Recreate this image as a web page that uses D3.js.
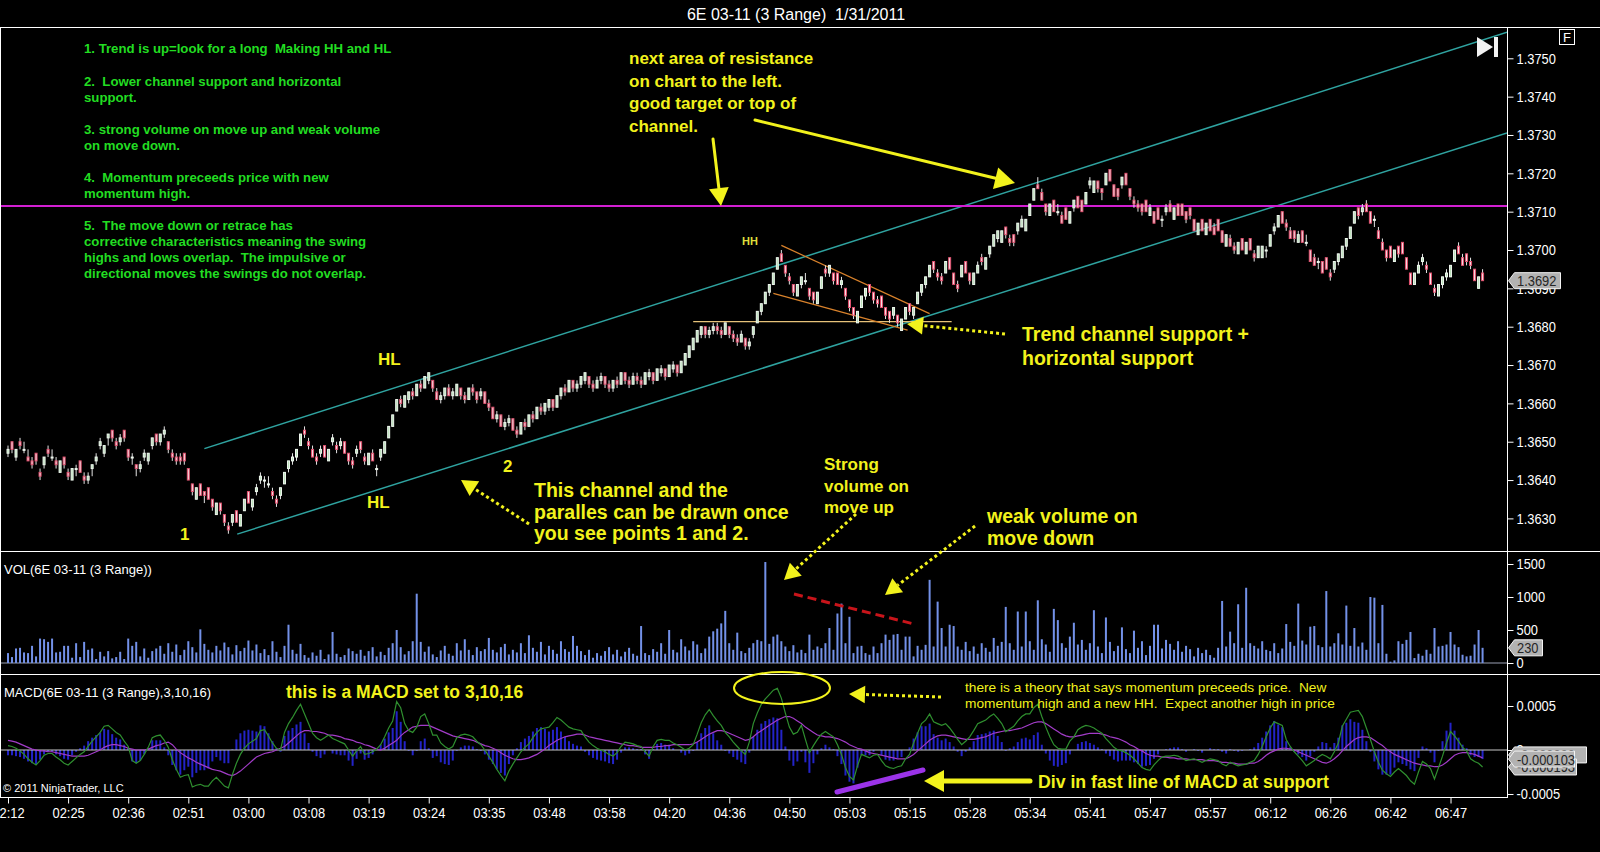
<!DOCTYPE html>
<html>
<head>
<meta charset="utf-8">
<script src="https://cdn.jsdelivr.net/npm/d3@7"></script>
<style>
html, body { margin: 0; padding: 0; background: #000; }
svg { display: block; }
text { font-family: "Liberation Sans", Arial, sans-serif; white-space: pre; }
</style>
</head>
<body>
<svg id="chart" width="1600" height="852"></svg>
<script>
// ---- values ----
// prices are stored in pips above 1.3600, 3 Range bars => high = low + 3 pips
var PRICE_BASE = 1.3600, PIP = 0.0001, RANGE_TICKS = 3, MACD_UNIT = 0.00001;

var timeLabels = ["02:12","02:25","02:36","02:51","03:00","03:08","03:19","03:24","03:35","03:48","03:58","04:20","04:36",
                  "04:50","05:03","05:15","05:28","05:34","05:41","05:47","05:57","06:12","06:26","06:42","06:47"];
var BARS_PER_LABEL = 15;
var priceTicks = [1.3630,1.3640,1.3650,1.3660,1.3670,1.3680,1.3690,1.3700,1.3710,1.3720,1.3730,1.3740,1.3750];
var volTicks = [0,500,1000,1500];
var macdTicks = [-0.0005,0,0.0005];

// one row per x-axis label interval (15 bars)
var barLow = [
  46,47,45,48,47,45,43,44,40,43,46,45,43,42,43,
  40,40,41,42,39,39,41,44,48,46,49,50,48,49,50,
  45,44,41,42,45,44,48,49,49,51,47,45,44,44,44,
  40,36,35,36,34,35,32,31,31,28,26,28,29,28,32,
  34,32,36,39,38,38,35,33,35,39,42,44,45,49,51,
  48,46,44,46,46,45,49,47,48,47,44,43,46,47,44,
  44,45,41,45,47,51,54,58,59,59,60,61,62,63,64,
  65,63,61,60,61,62,61,62,61,60,61,62,60,61,60,
  58,56,55,54,53,54,53,51,52,53,54,55,56,57,57,
  58,58,59,61,62,63,63,63,64,65,64,63,64,65,64,
  63,63,64,65,65,64,65,65,64,65,66,65,66,67,66,
  67,68,67,68,70,72,74,76,77,77,77,78,78,77,78,
  77,76,75,76,74,74,77,81,83,86,88,91,95,97,93,
  91,88,88,90,91,87,86,86,90,93,93,91,91,90,87,
  84,82,81,85,87,88,86,85,85,82,81,82,80,79,82,
  83,82,86,88,90,93,94,92,91,94,95,91,89,93,94,
  91,91,94,96,95,98,101,102,102,103,101,101,104,106,105,
  109,113,116,113,109,109,110,109,107,108,107,110,111,110,112,
  116,115,115,113,117,118,114,113,116,117,113,111,110,109,110,
  109,107,108,106,109,110,108,109,109,107,108,105,104,105,104,
  105,104,105,102,101,101,99,99,100,99,100,97,98,98,98,
  101,104,106,107,105,103,102,102,102,101,97,96,95,94,95,
  92,94,96,98,100,103,107,108,109,110,107,106,103,100,97,
  98,97,98,99,95,91,91,94,96,94,91,88,88,90,92,
  93,97,99,96,96,95,92,90,92
];
var barOpen = [
  47,50,46,50,48,46,45,47,42,44,48,46,45,42,46,
  42,40,43,45,41,40,43,45,49,47,51,53,50,50,53,
  48,46,44,43,46,45,49,52,50,52,50,47,46,46,47,
  43,39,35,39,37,38,35,31,34,31,28,29,32,28,32,
  37,33,37,40,40,39,37,35,36,39,43,45,46,49,53,
  50,48,46,47,49,45,50,49,49,50,47,45,47,50,46,
  44,47,43,46,47,51,54,58,61,59,61,63,62,65,64,
  66,66,63,61,62,64,62,62,64,62,61,64,63,62,63,
  60,59,56,57,54,55,56,53,52,55,54,57,56,59,58,
  59,61,59,62,64,63,66,64,65,66,67,65,64,66,67,
  65,64,66,65,68,66,65,67,66,65,67,68,66,68,69,
  67,69,70,68,70,72,74,76,78,80,78,79,80,79,78,
  80,78,77,76,77,75,78,81,84,86,89,91,95,99,96,
  93,91,88,91,92,90,89,86,90,95,94,94,94,91,90,
  87,85,81,85,88,91,89,87,88,85,84,83,83,79,82,
  86,83,86,89,91,93,97,94,93,94,98,94,91,93,97,
  94,91,94,98,95,99,101,103,102,106,103,104,105,106,105,
  109,113,117,115,112,109,113,110,109,111,107,111,114,113,112,
  117,115,118,116,117,121,117,116,117,120,116,113,112,112,113,
  109,110,111,108,110,112,108,112,112,110,111,108,104,108,104,
  108,106,108,105,101,103,101,99,103,99,103,99,98,98,100,
  101,105,106,110,107,105,105,102,105,102,100,98,97,97,98,
  94,95,97,98,101,103,107,111,110,112,110,108,105,102,100,
  101,97,101,102,98,94,91,94,97,96,94,90,88,91,93,
  93,97,101,98,99,97,95,90,94
];
var barClose = [
  48,48,48,49,48,45,44,45,41,46,47,46,44,45,44,
  41,43,43,42,40,41,44,46,50,49,52,51,49,51,51,
  46,46,43,44,47,47,51,50,52,53,48,46,45,45,45,
  40,37,38,36,36,35,33,34,32,29,27,31,29,31,35,
  34,35,38,41,40,39,36,34,38,42,45,46,48,52,52,
  49,46,45,48,46,48,51,48,50,47,45,44,48,48,45,
  47,45,43,48,50,54,57,61,60,62,63,62,65,64,67,
  68,64,61,62,64,62,63,65,62,61,64,63,61,63,60,
  59,56,57,54,55,56,53,52,55,54,57,56,59,58,60,
  61,59,62,64,63,66,64,65,67,68,65,64,66,67,65,
  64,66,65,68,66,65,67,66,65,68,68,66,69,69,67,
  70,70,68,71,73,75,77,79,80,78,79,80,79,78,81,
  78,77,76,78,75,76,80,84,86,89,91,94,98,97,94,
  92,89,91,93,92,88,87,89,93,94,96,92,91,92,88,
  85,83,84,88,90,89,87,86,85,83,82,85,81,82,85,
  84,85,89,91,93,96,95,93,92,97,95,91,90,96,94,
  92,94,96,97,98,101,104,105,105,104,102,102,107,108,108,
  112,116,116,113,110,112,110,110,107,108,110,113,111,110,115,
  118,118,116,115,120,118,114,114,119,117,114,112,111,110,110,
  111,107,108,108,111,110,111,109,109,108,109,105,107,105,107,
  105,104,105,102,104,101,100,102,100,102,100,98,101,101,100,
  104,106,109,107,106,103,103,104,102,102,97,96,97,94,95,
  93,97,99,101,103,106,110,109,111,110,107,108,103,100,98,
  98,100,99,99,95,91,94,96,98,95,91,89,91,93,94,
  96,100,99,96,97,96,92,93,92
];
var volume = [
  150,90,220,230,160,150,260,100,370,360,320,370,160,170,260,
  260,80,300,90,320,200,220,60,170,100,180,70,90,170,60,
  370,260,320,100,220,80,180,220,260,140,300,170,280,120,200,
  330,240,160,510,290,200,160,260,190,310,240,130,270,180,230,
  340,190,280,150,210,120,330,170,90,260,580,200,140,290,120,
  80,160,110,200,60,130,470,140,90,120,220,180,140,200,110,
  180,240,100,170,120,230,300,500,240,130,180,330,1050,320,170,
  250,130,90,190,260,140,110,300,190,360,200,120,240,180,210,
  380,200,160,240,290,130,200,160,300,150,420,230,170,320,130,
  260,200,140,330,210,170,410,260,180,120,200,80,150,110,180,
  240,130,200,100,170,230,140,110,560,150,120,210,170,300,140,
  500,200,160,360,250,190,330,280,150,220,400,480,520,600,790,
  300,200,460,180,150,230,300,350,330,1530,290,400,430,330,250,
  180,270,160,200,150,430,200,250,225,300,530,200,750,900,300,
  700,150,250,260,150,125,250,150,300,430,350,430,440,200,400,
  400,100,260,200,275,1260,250,930,530,250,580,560,250,200,320,
  180,250,140,300,230,170,380,260,320,850,300,200,780,250,780,
  330,200,950,360,280,170,820,650,300,230,400,610,280,350,200,
  300,800,250,150,690,320,180,260,540,210,150,490,230,330,120,
  260,580,580,220,350,290,200,330,170,260,210,100,230,150,200,
  120,80,230,940,250,475,300,890,230,1140,300,260,220,330,200,
  180,300,150,220,590,320,260,900,340,280,550,560,270,240,1090,
  250,300,450,280,870,260,530,250,310,200,1000,990,300,880,140,
  20,40,330,290,350,470,75,140,110,200,140,530,250,260,280,
  470,280,240,125,100,110,280,500,230
];
// MACD(3,10,16) in units of 0.00001
var macdFast = [
  5,4,2,-1,-5,-10,-14,-17,-12,-6,-4,-4,-8,-11,-15,
  -17,-13,-9,-5,-2,4,10,15,20,27,28,24,20,17,10,
  4,-12,-15,-12,-5,3,14,16,17,11,3,-11,-22,-31,-29,
  -28,-42,-40,-39,-41,-41,-35,-31,-36,-41,-43,-28,-15,-5,2,
  7,10,13,22,23,16,8,2,0,20,30,37,45,52,41,
  30,19,14,11,14,17,13,11,9,7,0,-7,-1,4,-5,
  -4,-2,1,6,15,25,33,55,48,30,22,20,26,38,41,
  30,17,17,8,4,1,4,14,17,18,17,15,10,6,0,
  -7,-14,-22,-29,-35,-24,-16,-9,-2,3,7,14,20,24,25,
  26,31,37,34,30,26,24,23,22,15,9,5,2,0,-2,
  -5,-7,-3,4,9,8,7,5,4,-2,-7,4,11,12,11,
  11,8,6,3,0,2,6,18,31,40,46,39,33,28,20,
  15,9,4,-1,-5,9,30,42,52,58,63,68,70,59,42,
  26,18,20,28,12,-3,5,12,18,21,18,15,6,-5,-20,
  -30,-34,-18,-5,-7,-9,-6,-5,-12,-18,-20,-21,-19,-18,-10,
  -5,8,19,30,34,41,32,30,28,30,25,19,12,6,10,
  15,22,30,32,34,38,41,36,30,21,24,27,33,38,41,
  41,48,52,38,26,15,6,2,1,1,10,15,23,26,28,
  27,25,22,19,13,8,3,0,-1,-3,-6,-10,-15,-20,-22,
  -23,-17,-12,-8,-7,-7,-6,-7,-9,-12,-11,-10,-12,-14,-12,
  -10,-11,-12,-16,-18,-14,-16,-18,-17,-16,-14,-12,-5,4,15,
  25,32,30,28,12,4,-2,-7,-12,-18,-15,-12,-8,-5,-7,
  -10,-2,8,27,35,43,44,45,38,25,12,-2,-14,-23,-27,
  -30,-25,-21,-25,-29,-35,-39,-25,-13,-16,-21,-33,-20,-7,8,
  21,16,10,3,-1,-10,-13,-15,-19.3
];
var macdAvg = [
  11,10,9,7,5,3,1,0,-1,-1,-2,-2,-3,-4,-5,
  -6,-7,-7,-7,-7,-6,-4,-2,0,3,5,6,6,5,4,
  2,1,0,0,0,1,3,5,6,8,9,6,1,-3,-6,
  -9,-11,-14,-16,-18,-20,-22,-23,-24,-26,-28,-29,-27,-24,-20,
  -16,-12,-8,-6,-4,-3,-2,0,2,4,8,12,16,20,22,
  22,21,21,20,19,17,17,16,15,13,12,11,9,8,6,
  5,3,1,0,2,5,8,11,16,20,23,26,27,28,28,
  28,26,24,22,20,18,16,15,14,13,12,11,9,7,5,
  4,2,0,-3,-6,-8,-10,-11,-11,-10,-9,-7,-5,-2,1,
  5,8,11,13,15,16,17,18,18,17,15,14,13,12,11,
  10,9,8,7,6,5,5,4,3,3,3,3,4,4,5,
  5,6,6,6,6,6,7,9,12,15,18,20,22,22,21,
  19,17,15,13,11,12,15,19,22,25,28,31,34,36,38,
  38,36,33,30,26,23,20,17,16,15,15,14,13,11,9,
  6,4,2,1,-1,-3,-4,-5,-6,-7,-8,-9,-10,-10,-10,
  -8,-5,-1,3,7,11,14,16,17,17,16,15,14,13,12,
  12,12,13,14,15,17,19,20,21,22,22,23,24,25,27,
  29,31,32,32,30,27,24,21,18,16,15,15,16,17,18,
  19,19,19,18,17,15,14,13,11,9,6,4,1,-1,-4,
  -6,-7,-7,-8,-8,-9,-9,-10,-10,-10,-11,-11,-11,-11,-12,
  -12,-12,-13,-14,-14,-15,-15,-16,-16,-16,-15,-15,-13,-10,-6,
  -3,-1,1,2,2,1,0,-2,-4,-6,-8,-10,-12,-14,-15,
  -13,-10,-6,-1,4,8,12,14,15,15,14,11,8,5,1,
  -2,-5,-7,-9,-11,-13,-15,-16,-17,-18,-18,-19,-19,-17,-14,
  -10,-6,-4,-3,-3,-4,-5,-7,-9
];

// drawn-on studies (bar index, price)
var upperChannel = [[49, 1.36482], [374.1, 1.37568]];
var lowerChannel = [[57.2, 1.36259], [374.1, 1.37305]];
var resistanceLevel = 1.37115;
var supportLevel = 1.36813, supportSpan = [171, 235.5];
var wedgeUpper = [[193, 1.37012], [230, 1.36834]];
var wedgeLower = [[191, 1.36887], [224.5, 1.36791]];

var notesGreen = [
  ["1. Trend is up=look for a long  Making HH and HL", 53],
  ["2.  Lower channel support and horizontal", 86],
  ["support.", 102],
  ["3. strong volume on move up and weak volume", 134],
  ["on move down.", 150],
  ["4.  Momentum preceeds price with new", 182],
  ["momentum high.", 198],
  ["5.  The move down or retrace has", 230],
  ["corrective characteristics meaning the swing", 246],
  ["highs and lows overlap.  The impulsive or", 262],
  ["directional moves the swings do not overlap.", 278]
];

// ---- layout ----
var W = 1600, H = 852, axisX = 1507;
var priceTop = 27, volTop = 551, macdTop = 674, macdBottom = 797;
var yellow = "#f2f21c";
var NARROW = 0.86; // axis font is a narrow face: squeeze regular glyphs horizontally

var bars = barLow.map(function(l, i){
    return {i: i,
            low: PRICE_BASE + l * PIP,
            high: PRICE_BASE + (l + RANGE_TICKS) * PIP,
            open: PRICE_BASE + barOpen[i] * PIP,
            close: PRICE_BASE + barClose[i] * PIP,
            vol: volume[i],
            fast: macdFast[i] * MACD_UNIT,
            avg: macdAvg[i] * MACD_UNIT,
            diff: (macdFast[i] - macdAvg[i]) * MACD_UNIT}; // NinjaTrader Diff plot = Macd - Avg
});
var last = bars[bars.length - 1];

var x = d3.scaleLinear().domain([0, bars.length - 1]).range([8, 8 + 4.007 * (bars.length - 1)]);
var yPrice = d3.scaleLinear().domain([1.3630, 1.3750]).range([518.4, 58.3]);
var yVol = d3.scaleLinear().domain([0, 1500]).range([663, 564]);
var yMacd = d3.scaleLinear().domain([-0.0005, 0.0005]).range([794, 706]);

var svg = d3.select("#chart");
svg.append("rect").attr("width", W).attr("height", H).attr("fill", "#000");

var defs = svg.append("defs");
defs.append("clipPath").attr("id", "clipPrice").append("rect")
    .attr("x", 1).attr("y", priceTop + 1).attr("width", axisX - 1).attr("height", volTop - priceTop - 1);
defs.append("clipPath").attr("id", "clipVol").append("rect")
    .attr("x", 1).attr("y", volTop + 1).attr("width", axisX - 1).attr("height", macdTop - volTop - 1);
defs.append("clipPath").attr("id", "clipMacd").append("rect")
    .attr("x", 1).attr("y", macdTop + 1).attr("width", axisX - 1).attr("height", macdBottom - macdTop - 1);

// title
svg.append("text").attr("x", 796).attr("y", 20).attr("text-anchor", "middle")
    .attr("fill", "#fff").attr("font-size", 16).text("6E 03-11 (3 Range)  1/31/2011");

// ---- price panel ----
var pricePanel = svg.append("g").attr("clip-path", "url(#clipPrice)");

var studyLine = function(pts, color, w){
    pricePanel.append("line")
        .attr("x1", x(pts[0][0])).attr("y1", yPrice(pts[0][1]))
        .attr("x2", x(pts[1][0])).attr("y2", yPrice(pts[1][1]))
        .attr("stroke", color).attr("stroke-width", w);
};
studyLine(upperChannel, "#2fa3a0", 1.5);
studyLine(lowerChannel, "#2fa3a0", 1.5);

pricePanel.append("line")
    .attr("x1", 0).attr("x2", axisX)
    .attr("y1", yPrice(resistanceLevel)).attr("y2", yPrice(resistanceLevel))
    .attr("stroke", "#d21fd2").attr("stroke-width", 2);

pricePanel.append("line")
    .attr("x1", x(supportSpan[0])).attr("x2", x(supportSpan[1]))
    .attr("y1", yPrice(supportLevel)).attr("y2", yPrice(supportLevel))
    .attr("stroke", "#e6c27a").attr("stroke-width", 1.2);
studyLine(wedgeUpper, "#d9822b", 1.2);
studyLine(wedgeLower, "#d9822b", 1.2);

var candles = pricePanel.selectAll("g.candle").data(bars).enter().append("g").attr("class", "candle");
candles.append("line")
    .attr("x1", function(d){ return x(d.i); }).attr("x2", function(d){ return x(d.i); })
    .attr("y1", function(d){ return yPrice(d.high); }).attr("y2", function(d){ return yPrice(d.low); })
    .attr("stroke", "#e4e4e4").attr("stroke-width", 1);
candles.append("rect")
    .attr("x", function(d){ return x(d.i) - 1; })
    .attr("width", 2)
    .attr("y", function(d){ return yPrice(Math.max(d.open, d.close)); })
    .attr("height", function(d){ return Math.max(1, Math.abs(yPrice(d.open) - yPrice(d.close))); })
    .attr("fill", function(d){ return d.close >= d.open ? "#b9e0b9" : "#f6e2e6"; })
    .attr("stroke", function(d){ return d.close >= d.open ? "#eef6ee" : "#e0506e"; })
    .attr("stroke-width", 1);

// ---- volume panel ----
var volPanel = svg.append("g").attr("clip-path", "url(#clipVol)");
volPanel.append("line").attr("x1", 0).attr("x2", axisX)
    .attr("y1", yVol(0)).attr("y2", yVol(0)).attr("stroke", "#9aa0b4").attr("stroke-width", 1);
volPanel.selectAll("rect.vol").data(bars).enter().append("rect").attr("class", "vol")
    .attr("x", function(d){ return x(d.i) - 1; })
    .attr("width", 2)
    .attr("y", function(d){ return yVol(d.vol); })
    .attr("height", function(d){ return yVol(0) - yVol(d.vol); })
    .attr("fill", "#7391e8");

// ---- MACD panel ----
var macdPanel = svg.append("g").attr("clip-path", "url(#clipMacd)");
macdPanel.selectAll("rect.diff").data(bars).enter().append("rect").attr("class", "diff")
    .attr("x", function(d){ return x(d.i) - 1; })
    .attr("width", 2)
    .attr("y", function(d){ return Math.min(yMacd(0), yMacd(d.diff)); })
    .attr("height", function(d){ return Math.abs(yMacd(0) - yMacd(d.diff)); })
    .attr("fill", "#2323c8");
macdPanel.append("line").attr("x1", 0).attr("x2", axisX)
    .attr("y1", yMacd(0)).attr("y2", yMacd(0)).attr("stroke", "#c8c8c8").attr("stroke-width", 1);
macdPanel.append("path").datum(bars)
    .attr("d", d3.line().x(function(d){ return x(d.i); }).y(function(d){ return yMacd(d.avg); }))
    .attr("fill", "none").attr("stroke", "#a23cc8").attr("stroke-width", 1.2);
macdPanel.append("path").datum(bars)
    .attr("d", d3.line().x(function(d){ return x(d.i); }).y(function(d){ return yMacd(d.fast); }))
    .attr("fill", "none").attr("stroke", "#2f8f2f").attr("stroke-width", 1.2);

// ---- frames ----
var frame = svg.append("g").attr("stroke", "#fff").attr("stroke-width", 1);
frame.append("line").attr("x1", 0).attr("x2", W).attr("y1", priceTop + 0.5).attr("y2", priceTop + 0.5);
frame.append("line").attr("x1", 0).attr("x2", W).attr("y1", volTop + 0.5).attr("y2", volTop + 0.5);
frame.append("line").attr("x1", 0).attr("x2", W).attr("y1", macdTop + 0.5).attr("y2", macdTop + 0.5);
frame.append("line").attr("x1", 0).attr("x2", axisX).attr("y1", macdBottom + 0.5).attr("y2", macdBottom + 0.5);
frame.append("line").attr("x1", axisX + 0.5).attr("x2", axisX + 0.5).attr("y1", priceTop).attr("y2", macdBottom + 1);
frame.append("line").attr("x1", 0.5).attr("x2", 0.5).attr("y1", priceTop).attr("y2", macdBottom);

// ---- axes ----
var styleAxis = function(g){
    g.select(".domain").remove();
    g.selectAll(".tick line").attr("stroke", "#fff");
    g.selectAll(".tick text").attr("fill", "#fff").attr("font-size", 15)
        .attr("transform", "scale(" + NARROW + ",1)");
};
var rightPad = 9 / NARROW - 6;
svg.append("g").attr("transform", "translate(" + (axisX + 0.5) + ",0)")
    .call(d3.axisRight(yPrice).tickValues(priceTicks).tickSize(6).tickPadding(rightPad)
        .tickFormat(function(d){ return d.toFixed(4); }))
    .call(styleAxis);
svg.append("g").attr("transform", "translate(" + (axisX + 0.5) + ",0)")
    .call(d3.axisRight(yVol).tickValues(volTicks).tickSize(6).tickPadding(rightPad)
        .tickFormat(function(d){ return String(d); }))
    .call(styleAxis);
svg.append("g").attr("transform", "translate(" + (axisX + 0.5) + ",0)")
    .call(d3.axisRight(yMacd).tickValues(macdTicks).tickSize(6).tickPadding(rightPad)
        .tickFormat(function(d){ return d === 0 ? "0" : d.toFixed(4); }))
    .call(styleAxis);
svg.append("g").attr("transform", "translate(0," + (macdBottom + 0.5) + ")")
    .call(d3.axisBottom(x).tickValues(timeLabels.map(function(t, k){ return k * BARS_PER_LABEL; }))
        .tickSize(6).tickPadding(4)
        .tickFormat(function(d){ return timeLabels[d / BARS_PER_LABEL]; }))
    .call(styleAxis);

// ---- value tags on the right axis ----
var tag = function(yv, label, w){
    var g = svg.append("g");
    g.append("path")
        .attr("d", "M" + (axisX + 1.5) + "," + yv + " L" + (axisX + 7.5) + "," + (yv - 8) +
                   " L" + (axisX + 7.5 + w) + "," + (yv - 8) + " L" + (axisX + 7.5 + w) + "," + (yv + 8) +
                   " L" + (axisX + 7.5) + "," + (yv + 8) + " Z")
        .attr("fill", "#b2b2b2").attr("stroke", "#f4f4f4").attr("stroke-width", 1);
    g.append("text")
        .attr("transform", "translate(" + (axisX + 10) + "," + (yv + 5.5) + ") scale(" + NARROW + ",1)")
        .attr("fill", "#262626").attr("font-size", 15).text(label);
};
tag(yPrice(last.close), last.close.toFixed(4), 46);
tag(yVol(last.vol), String(last.vol), 28);
tag(yMacd(last.avg) - 3, "-0.000090", 72);
tag(yMacd(last.fast), "-0.000193", 62);
tag(yMacd(last.diff), "-0.000103", 60);

// ---- panel captions ----
var label = function(xp, yp, str, size, color, weight){
    return svg.append("text").attr("x", xp).attr("y", yp).attr("font-size", size)
        .attr("fill", color).attr("font-weight", weight || "normal").text(str);
};
label(4, 574, "VOL(6E 03-11 (3 Range))", 13, "#fff");
label(4, 697, "MACD(6E 03-11 (3 Range),3,10,16)", 13, "#fff");
label(3, 792, "\u00a9 2011 NinjaTrader, LLC", 11, "#fff");

// top right controls
svg.append("rect").attr("x", 1559.5).attr("y", 29.5).attr("width", 15).attr("height", 15)
    .attr("fill", "none").attr("stroke", "#fff");
label(1563, 42, "F", 13, "#fff");
svg.append("path").attr("d", "M1477,37 L1477,57 L1493,47 Z").attr("fill", "#f2f2f2");
svg.append("rect").attr("x", 1494).attr("y", 37).attr("width", 4).attr("height", 20).attr("fill", "#f2f2f2");

// ---- notes ----
notesGreen.forEach(function(n){ label(84, n[1], n[0], 13.2, "#22dd22", "bold"); });

var big = 17, bigger = 19.5;
label(629, 64, "next area of resistance", big, yellow, "bold");
label(629, 86.5, "on chart to the left.", big, yellow, "bold");
label(629, 109, "good target or top of", big, yellow, "bold");
label(629, 131.5, "channel.", big, yellow, "bold");
label(742, 245, "HH", 11, "#dede3c", "bold");
label(378, 365, "HL", big, yellow, "bold");
label(367, 508, "HL", big, yellow, "bold");
label(180, 540, "1", big, yellow, "bold");
label(503, 472, "2", big, yellow, "bold");
label(1022, 341, "Trend channel support +", bigger, yellow, "bold");
label(1022, 365, "horizontal support", bigger, yellow, "bold");
label(534, 497, "This channel and the", bigger, yellow, "bold");
label(534, 519, "paralles can be drawn once", bigger, yellow, "bold");
label(534, 540, "you see points 1 and 2.", bigger, yellow, "bold");
label(824, 470, "Strong", big, yellow, "bold");
label(824, 491.5, "volume on", big, yellow, "bold");
label(824, 513, "move up", big, yellow, "bold");
label(987, 523, "weak volume on", bigger, yellow, "bold");
label(987, 544.5, "move down", bigger, yellow, "bold");
label(286, 698, "this is a MACD set to 3,10,16", 17.5, yellow, "bold");
label(965, 691.5, "there is a theory that says momentum preceeds price.  New", 13.7, yellow);
label(965, 707.5, "momentum high and a new HH.  Expect another high in price", 13.7, yellow);
label(1038, 788, "Div in fast line of MACD at support", 17.7, yellow, "bold");

// ---- hand-drawn arrows ----
var arrow = function(x1, y1, x2, y2, opt){
    var ang = Math.atan2(y2 - y1, x2 - x1), hl = opt.head, hw = opt.head * 0.55;
    var bx = x2 - hl * Math.cos(ang), by = y2 - hl * Math.sin(ang);
    svg.append("line").attr("x1", x1).attr("y1", y1).attr("x2", bx).attr("y2", by)
        .attr("stroke", opt.color || yellow).attr("stroke-width", opt.w)
        .attr("stroke-dasharray", opt.dash || null).attr("stroke-linecap", opt.dash ? "butt" : "round");
    svg.append("path")
        .attr("d", "M" + x2 + "," + y2 +
                   " L" + (bx + hw * Math.sin(ang)) + "," + (by - hw * Math.cos(ang)) +
                   " L" + (bx - hw * Math.sin(ang)) + "," + (by + hw * Math.cos(ang)) + " Z")
        .attr("fill", opt.color || yellow);
};
arrow(755, 120, 1015, 183, {w: 3, head: 20});
arrow(713, 139, 721, 206, {w: 3, head: 18});
arrow(1005, 334, 907, 324, {w: 3, dash: "3,3", head: 16});
arrow(529, 524, 461, 480, {w: 3, dash: "3,3", head: 16});
arrow(856, 514, 784, 580, {w: 3, dash: "3,3", head: 16});
arrow(975, 526, 885, 595, {w: 3, dash: "3,3", head: 16});
arrow(941, 697, 849, 694, {w: 3, dash: "3,3", head: 16});
arrow(1030, 781, 924, 781, {w: 5, head: 20});

svg.append("line").attr("x1", 794).attr("y1", 594).attr("x2", 914).attr("y2", 624)
    .attr("stroke", "#c8141a").attr("stroke-width", 3).attr("stroke-dasharray", "9,5");
svg.append("ellipse").attr("cx", 782).attr("cy", 688).attr("rx", 48).attr("ry", 16)
    .attr("fill", "none").attr("stroke", yellow).attr("stroke-width", 2);
svg.append("line").attr("x1", 837).attr("y1", 792).attr("x2", 923).attr("y2", 770)
    .attr("stroke", "#9b33e8").attr("stroke-width", 5).attr("stroke-linecap", "round");
</script>
</body>
</html>
